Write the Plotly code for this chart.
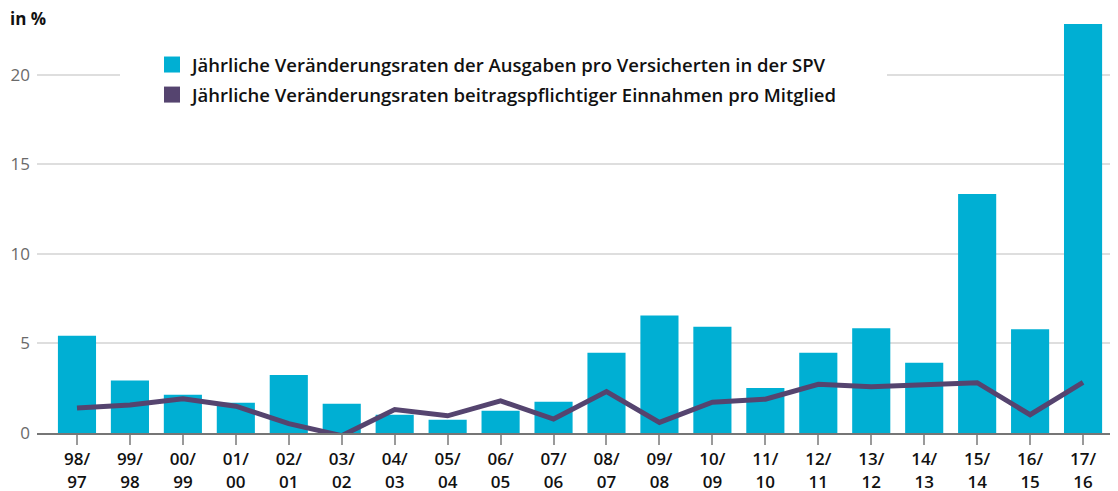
import plotly.graph_objects as go

categories = ["98/97", "99/98", "00/99", "01/00", "02/01", "03/02", "04/03", "05/04",
              "06/05", "07/06", "08/07", "09/08", "10/09", "11/10", "12/11", "13/12",
              "14/13", "15/14", "16/15", "17/16"]
ausgaben = [5.43, 2.93, 2.13, 1.69, 3.24, 1.63, 1.02, 0.74, 1.24, 1.74,
            4.48, 6.57, 5.93, 2.52, 4.48, 5.85, 3.93, 13.35, 5.80, 22.85]
einnahmen = [1.39, 1.57, 1.91, 1.50, 0.52, -0.15, 1.31, 0.96, 1.80, 0.78,
             2.31, 0.59, 1.72, 1.89, 2.72, 2.59, 2.69, 2.81, 1.02, 2.83]
tick_labels = [c.replace("/", "/<br>") for c in categories]
y_ticks = [0, 5, 10, 15, 20]
name_bar = "Jährliche Veränderungsraten der Ausgaben pro Versicherten in der SPV"
name_line = "Jährliche Veränderungsraten beitragspflichtiger Einnahmen pro Mitglied"

CYAN = "#00afd3"
PURPLE = "#55446f"
FONT = "Open Sans"

fig = go.Figure()
fig.add_trace(go.Bar(x=categories, y=ausgaben, marker_color=CYAN, width=0.72,
                     marker_line_width=0, showlegend=False, name=name_bar))
fig.add_trace(go.Scatter(x=categories, y=einnahmen, mode="lines",
                         line=dict(color=PURPLE, width=5), cliponaxis=False,
                         showlegend=False, name=name_line))
# legend entries (square swatches)
for i, (nm, col) in enumerate([(name_bar, CYAN), (name_line, PURPLE)]):
    fig.add_trace(go.Scatter(x=[None], y=[None], mode="markers", name=nm,
                             legendgroup=f"g{i}",
                             marker=dict(symbol="square", size=16, color=col)))

# the page places the figure 8px from the top-left corner (body margin)
OFF = 8
PAGE_W, PAGE_H = 1118, 491
W, H = PAGE_W - OFF, PAGE_H - OFF
# plot area in page pixels
PL, PR, PT, PB = 37, 1118, 20, 433
L, R, T, B = PL - OFF, PAGE_W - PR, PT - OFF, PAGE_H - PB
pw, ph = PR - PL, PB - PT

def px_x(p):
    return (p - PL) / pw

def px_y(p):
    return (PB - p) / ph

fig.update_layout(
    width=W, height=H,
    margin=dict(l=L, r=R, t=T, b=B, autoexpand=False),
    paper_bgcolor="white", plot_bgcolor="white",
    font=dict(family=FONT, color="#111111"),
    title=dict(text="<b>in %</b>", x=(10 - OFF) / W, y=1 - (19.5 - OFF) / H,
               xref="container", yref="container",
               xanchor="left", yanchor="middle",
               font=dict(size=17, color="#111111", family=FONT)),
    xaxis=dict(type="category", range=[-0.755, 19.66], automargin=False,
               tickvals=categories, ticktext=tick_labels,
               showline=True, linecolor="#767676", linewidth=2,
               ticks="outside", ticklen=10, tickwidth=1.5, tickcolor="#9a9a9a",
               tickfont=dict(size=17, color="#111111", family=FONT, weight=600),
               showgrid=False, fixedrange=True),
    yaxis=dict(range=[0, 23.07], tickvals=y_ticks, showgrid=True, automargin=False,
               gridcolor="#dedede", gridwidth=1.5, zeroline=False,
               ticks="", ticklabelstandoff=6,
               tickfont=dict(size=17, color="#6a6a6a", family=FONT)),
    legend=dict(x=px_x(152), y=px_y(46), xanchor="left", yanchor="top",
                bgcolor="rgba(0,0,0,0)",
                font=dict(size=18.5, color="#111111", family=FONT, weight=600),
                traceorder="grouped", tracegroupgap=3, itemsizing="trace"),
    shapes=[dict(type="rect", xref="paper", yref="paper",
                 x0=px_x(120), x1=px_x(887), y0=px_y(112), y1=px_y(45),
                 fillcolor="white", line_width=0, layer="above")],
)

fig.write_html("out.html")
